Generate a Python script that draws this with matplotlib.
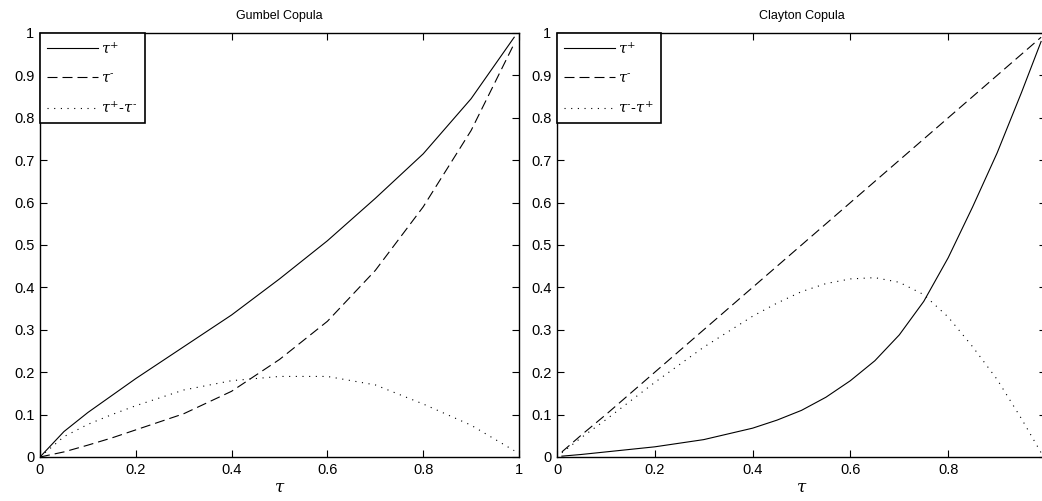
"""Upper/lower tail dependence curves for the Gumbel and Clayton copulas."""

import matplotlib
matplotlib.use("Agg")
import matplotlib.pyplot as plt
import numpy as np

# Gumbel copula
gumbel_tau = [0, 0.05, 0.1, 0.15, 0.2, 0.3, 0.4, 0.5, 0.6, 0.7, 0.8, 0.9, 0.99]
gumbel_plus = [0, 0.06, 0.105, 0.145, 0.185, 0.26, 0.335, 0.42, 0.51, 0.61, 0.715, 0.845, 0.99]
gumbel_minus = [0, 0.012, 0.028, 0.045, 0.064, 0.102, 0.155, 0.23, 0.32, 0.44, 0.59, 0.77, 0.975]
gumbel_diff = [0, 0.048, 0.077, 0.1, 0.121, 0.158, 0.18, 0.19, 0.19, 0.17, 0.125, 0.075, 0.015]

# Clayton copula
clayton_tau = [0.01, 0.05, 0.1, 0.15, 0.2, 0.3, 0.4, 0.45, 0.5, 0.55, 0.6, 0.65, 0.7, 0.75, 0.8,
               0.85, 0.9, 0.95, 0.99]
clayton_plus = [0.002, 0.006, 0.012, 0.018, 0.024, 0.041, 0.068, 0.087, 0.11, 0.141, 0.18, 0.227,
                0.288, 0.367, 0.47, 0.59, 0.717, 0.86, 0.98]
clayton_minus = [0.012, 0.052, 0.1, 0.15, 0.2, 0.3, 0.4, 0.45, 0.5, 0.55, 0.6, 0.65, 0.7, 0.75,
                 0.8, 0.85, 0.9, 0.95, 0.99]
clayton_diff = [0.01, 0.046, 0.088, 0.132, 0.176, 0.259, 0.332, 0.363, 0.39, 0.409, 0.42, 0.423,
                0.412, 0.383, 0.33, 0.26, 0.183, 0.09, 0.01]

xticks = [0, 0.2, 0.4, 0.6, 0.8, 1]
yticks = np.round(np.arange(0, 1.01, 0.1), 1)

plt.rcParams["font.family"] = ["Liberation Sans", "DejaVu Sans"]
plt.rcParams["mathtext.fontset"] = "dejavuserif"

DASH = (0, (9, 4.5))
DOT = (0, (1, 5))


def style_axes(ax, title, show_last_x=True):
    ax.set_xlim(0, 1)
    ax.set_ylim(0, 1)
    ax.set_xticks(xticks)
    labels = [f"{t:g}" for t in xticks]
    if not show_last_x:
        # the reference crops the right panel just before its last label
        labels[-1] = ""
    ax.set_xticklabels(labels)
    ax.set_yticks(yticks)
    ax.set_yticklabels([f"{t:g}" for t in yticks])
    ax.tick_params(direction="in", length=5, width=0.8, top=True, right=True, labelsize=10.5, pad=4)
    for spine in ax.spines.values():
        spine.set_linewidth(1.0)
    ax.set_title(title, fontsize=9, pad=10)
    ax.set_xlabel(r"$\tau$", fontsize=12, labelpad=2)


def add_legend(ax, labels):
    leg = ax.legend(labels, loc="upper left", borderaxespad=0, fancybox=False, framealpha=1,
                    edgecolor="black", fontsize=10.5, handlelength=3.5, handletextpad=0.2,
                    labelspacing=1.0, borderpad=0.5)
    leg.get_frame().set_linewidth(1.2)


fig = plt.figure(figsize=(10.42, 5.01), dpi=100)
ax1 = fig.add_axes([40 / 1042, 44 / 501, 479 / 1042, 424 / 501])
ax2 = fig.add_axes([557 / 1042, 44 / 501, 489 / 1042, 424 / 501])

ax1.plot(gumbel_tau, gumbel_plus, color="black", lw=0.8)
ax1.plot(gumbel_tau, gumbel_minus, color="black", lw=0.8, linestyle=DASH)
ax1.plot(gumbel_tau, gumbel_diff, color="black", lw=0.8, linestyle=DOT)
style_axes(ax1, "Gumbel Copula")
add_legend(ax1, [r"$\tau^{+}$", r"$\tau^{\text{-}}$", r"$\tau^{+}$-$\tau^{\text{-}}$"])

ax2.plot(clayton_tau, clayton_plus, color="black", lw=0.8)
ax2.plot(clayton_tau, clayton_minus, color="black", lw=0.8, linestyle=DASH)
ax2.plot(clayton_tau, clayton_diff, color="black", lw=0.8, linestyle=DOT)
style_axes(ax2, "Clayton Copula", show_last_x=False)
add_legend(ax2, [r"$\tau^{+}$", r"$\tau^{\text{-}}$", r"$\tau^{\text{-}}$-$\tau^{+}$"])

fig.savefig("out.png", dpi=100)
